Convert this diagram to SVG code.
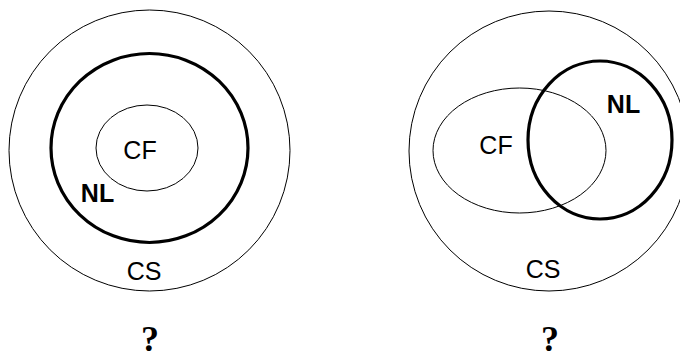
<svg xmlns="http://www.w3.org/2000/svg" width="680" height="359" viewBox="0 0 680 359">
<style>
.thin{fill:none;stroke:#000;stroke-width:1}
.thick{fill:none;stroke:#000;stroke-width:3.2}
.lbl{font-family:"Liberation Sans",Arial,sans-serif;font-size:25px;fill:#000;text-anchor:middle}
.b{font-weight:bold}
.q{font-family:"Liberation Serif","Times New Roman",serif;font-size:36px;font-weight:bold;fill:#000;text-anchor:middle}
</style>
<rect width="680" height="359" fill="#fff"/>
<g id="left">
<g id="left-cs"><circle class="thin" cx="149.5" cy="150.5" r="140.5"/><text class="lbl" x="144" y="280">CS</text></g>
<g id="left-nl"><ellipse class="thick" cx="149.5" cy="148" rx="98.5" ry="94.5"/><text class="lbl b" x="97.5" y="202">NL</text></g>
<g id="left-cf"><ellipse class="thin" cx="147" cy="148" rx="51" ry="43"/><text class="lbl" x="140" y="159">CF</text></g>
<text class="q" x="150" y="351">?</text>
</g>
<g id="right">
<g id="right-cs"><circle class="thin" cx="549" cy="151" r="140"/><text class="lbl" x="543" y="278">CS</text></g>
<g id="right-cf"><ellipse class="thin" cx="519.5" cy="150.5" rx="86.5" ry="62.5"/><text class="lbl" x="496" y="154">CF</text></g>
<g id="right-nl"><ellipse class="thick" cx="600" cy="140" rx="72" ry="79"/><text class="lbl b" x="623.5" y="113">NL</text></g>
<text class="q" x="550" y="351">?</text>
</g>
<g id="connectors"/>
</svg>
